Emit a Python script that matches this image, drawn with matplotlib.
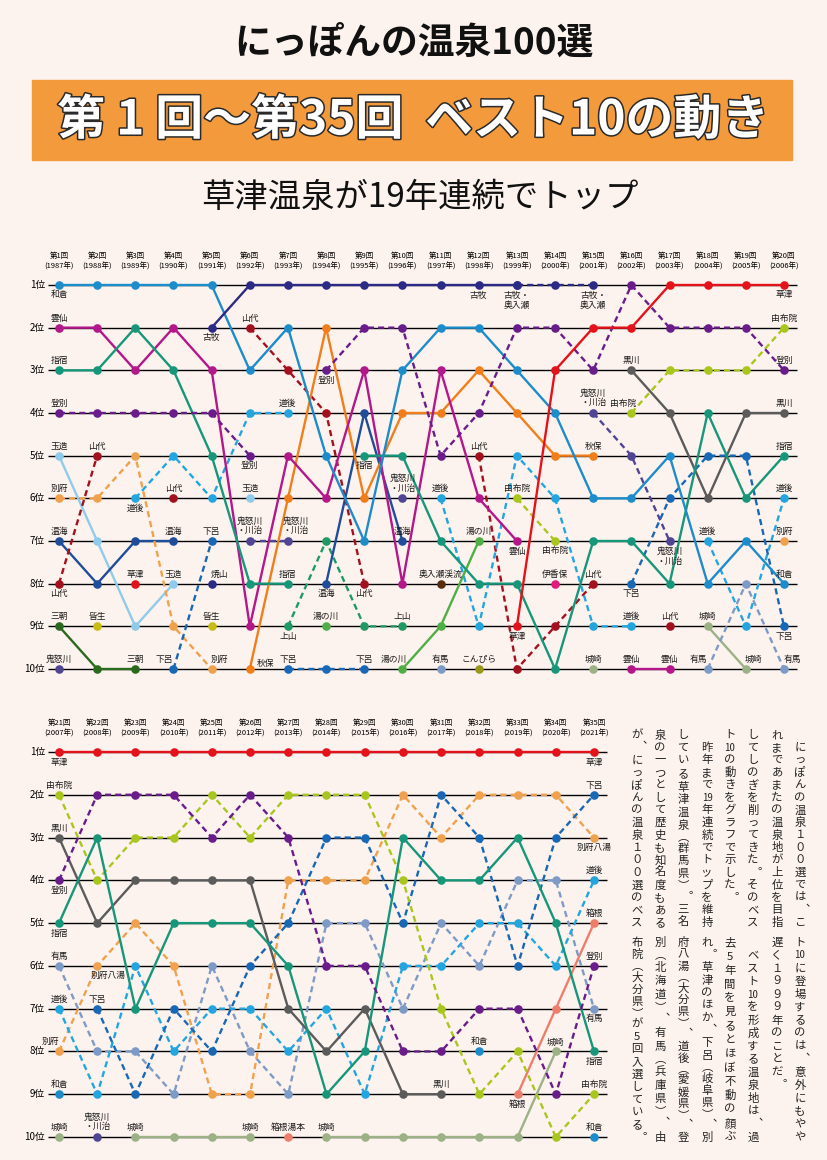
import numpy as np
import matplotlib.pyplot as plt
import matplotlib.patheffects as pe
from matplotlib.patches import Rectangle

plt.rcParams['font.family'] = ['Noto Sans CJK JP', 'DejaVu Sans']

N = None

events = [1, 2, 3, 4, 5, 6, 7, 8, 9, 10, 11, 12, 13, 14, 15, 16, 17, 18, 19, 20,
          21, 22, 23, 24, 25, 26, 27, 28, 29, 30, 31, 32, 33, 34, 35]
years = [1987, 1988, 1989, 1990, 1991, 1992, 1993, 1994, 1995, 1996, 1997, 1998,
         1999, 2000, 2001, 2002, 2003, 2004, 2005, 2006, 2007, 2008, 2009, 2010,
         2011, 2012, 2013, 2014, 2015, 2016, 2017, 2018, 2019, 2020, 2021]
rank_names = ['1位', '2位', '3位', '4位', '5位', '6位', '7位', '8位', '9位', '10位']

# rank per event (None = outside the top 10); events 1-20 then 21-35
wakura = [1, 1, 1, 1, 1, 3, 2, 5, 7, 3, 2, 2, 3, 4, 6, 6, 5, 8, 7, 8,
          9, N, N, N, N, N, N, N, N, N, N, 8, N, N, 10]
furumaki = [N, N, N, N, 2, 1, 1, 1, 1, 1, 1, 1, 1, N, N, N, N, N, N, N,
            N, N, N, N, N, N, N, N, N, N, N, N, N, N, N]
furumaki_oirase = [N, N, N, N, N, N, N, N, N, N, N, N, 1, 1, 1, N, N, N, N, N,
                   N, N, N, N, N, N, N, N, N, N, N, N, N, N, N]
unzen = [2, 2, 3, 2, 3, 9, 5, 6, 3, 8, 3, 6, 7, N, N, 10, 10, N, N, N,
         N, N, N, N, N, N, N, N, N, N, N, N, N, N, N]
ibusuki = [3, 3, 2, 3, 5, 8, 8, N, 5, 5, 7, 8, 8, 10, 7, 7, 8, 4, 6, 5,
           5, 3, 7, 5, 5, 5, 6, 9, 8, 3, 4, 4, 3, 5, 8]
noboribetsu = [4, 4, 4, 4, 4, 5, N, 3, 2, 2, 5, 4, 2, 2, 3, 1, 2, 2, 2, 3,
               4, 2, 2, 2, 3, 2, 3, 6, 6, 8, 8, 7, 7, 9, 6]
tamatsukuri = [5, 7, 9, 8, N, 6, N, N, N, N, N, N, N, N, N, N, N, N, N, N,
               N, N, N, N, N, N, N, N, N, N, N, N, N, N, N]
yamashiro = [8, 5, N, 6, N, 2, 3, 4, 8, N, N, 5, 10, 9, 8, N, 9, N, N, N,
             N, N, N, N, N, N, N, N, N, N, N, N, N, N, N]
beppu = [6, 6, 5, 9, 10, N, N, N, N, N, N, N, N, N, N, N, N, N, N, 7,
         8, 6, 5, 6, 9, 9, 4, 4, 4, 2, 3, 2, 2, 2, 3]
dogo = [N, N, 6, 5, 6, 4, 4, N, N, N, 6, 9, 5, 6, 9, 9, N, 7, 9, 6,
        7, 9, 6, 8, 7, 7, 8, 7, 9, 6, 6, 5, 5, 6, 4]
atsumi = [7, 8, 7, 7, N, N, N, 8, 4, 7, N, N, N, N, N, N, N, N, N, N,
          N, N, N, N, N, N, N, N, N, N, N, N, N, N, N]
misasa = [9, 10, 10, N, N, N, N, N, N, N, N, N, N, N, N, N, N, N, N, N,
          N, N, N, N, N, N, N, N, N, N, N, N, N, N, N]
kinugawa = [10, N, N, N, N, 7, 7, N, N, 6, N, N, N, N, 4, 5, 7, N, N, N,
            N, 10, N, N, N, N, N, N, N, N, N, N, N, N, N]
kaike = [N, 9, N, N, 9, N, N, N, N, N, N, N, N, N, N, N, N, N, N, N,
         N, N, N, N, N, N, N, N, N, N, N, N, N, N, N]
kusatsu = [N, N, 8, N, N, N, N, N, N, N, N, N, 9, 3, 2, 2, 1, 1, 1, 1,
           1, 1, 1, 1, 1, 1, 1, 1, 1, 1, 1, 1, 1, 1, 1]
gero = [N, N, N, 10, 7, N, 10, 10, 10, N, N, N, N, N, N, 8, 6, 5, 5, 9,
        N, 7, 9, 7, 8, 6, 5, 3, 3, 5, 2, 3, 6, 3, 2]
yakeyama = [N, N, N, N, 8, N, N, N, N, N, N, N, N, N, N, N, N, N, N, N,
            N, N, N, N, N, N, N, N, N, N, N, N, N, N, N]
akiu = [N, N, N, N, N, 10, 6, 2, 6, 4, 4, 3, 4, 5, 5, N, N, N, N, N,
        N, N, N, N, N, N, N, N, N, N, N, N, N, N, N]
kaminoyama = [N, N, N, N, N, N, 9, 7, 9, 9, N, N, N, N, N, N, N, N, N, N,
              N, N, N, N, N, N, N, N, N, N, N, N, N, N, N]
yunokawa = [N, N, N, N, N, N, N, 9, N, 10, 9, 7, N, N, N, N, N, N, N, N,
            N, N, N, N, N, N, N, N, N, N, N, N, N, N, N]
oirase = [N, N, N, N, N, N, N, N, N, N, 8, N, N, N, N, N, N, N, N, N,
          N, N, N, N, N, N, N, N, N, N, N, N, N, N, N]
arima = [N, N, N, N, N, N, N, N, N, N, 10, N, N, N, N, N, N, 10, 8, 10,
         6, 8, 8, 9, 6, 8, 9, 5, 5, 7, 5, 6, 4, 4, 7]
konpira = [N, N, N, N, N, N, N, N, N, N, N, 10, N, N, N, N, N, N, N, N,
           N, N, N, N, N, N, N, N, N, N, N, N, N, N, N]
yufuin = [N, N, N, N, N, N, N, N, N, N, N, N, 6, 7, N, 4, 3, 3, 3, 2,
          2, 4, 3, 3, 2, 3, 2, 2, 2, 4, 7, 9, 8, 10, 9]
ikaho = [N, N, N, N, N, N, N, N, N, N, N, N, N, 8, N, N, N, N, N, N,
         N, N, N, N, N, N, N, N, N, N, N, N, N, N, N]
kinosaki = [N, N, N, N, N, N, N, N, N, N, N, N, N, N, 10, N, N, 9, 10, N,
            10, N, 10, 10, 10, 10, N, 10, 10, 10, 10, 10, 10, 8, N]
kurokawa = [N, N, N, N, N, N, N, N, N, N, N, N, N, N, N, 3, 4, 6, 4, 4,
            3, 5, 4, 4, 4, 4, 7, 8, 7, 9, 9, N, N, N, N]
hakone = [N, N, N, N, N, N, N, N, N, N, N, N, N, N, N, N, N, N, N, N,
          N, N, N, N, N, N, 10, N, N, N, N, N, 9, 7, 5]

series = [
    ('奥入瀬渓流', oirase), ('こんぴら', konpira), ('伊香保', ikaho), ('焼山', yakeyama),
    ('皆生', kaike), ('三朝', misasa), ('玉造', tamatsukuri), ('湯の川', yunokawa),
    ('上山', kaminoyama), ('温海', atsumi), ('城崎', kinosaki), ('箱根', hakone),
    ('鬼怒川・川治', kinugawa), ('山代', yamashiro), ('有馬', arima), ('別府', beppu),
    ('道後', dogo), ('下呂', gero), ('秋保', akiu), ('黒川', kurokawa),
    ('由布院', yufuin), ('雲仙', unzen), ('指宿', ibusuki), ('和倉', wakura),
    ('登別', noboribetsu), ('古牧', furumaki), ('古牧・奥入瀬', furumaki_oirase),
    ('草津', kusatsu),
]

# (event, rank, text, placement)
labels = [
    (1, 1, '和倉', 'b'), (1, 2, '雲仙', 'a'), (1, 3, '指宿', 'a'), (1, 4, '登別', 'a'),
    (1, 5, '玉造', 'a'), (2, 5, '山代', 'a'), (5, 2, '古牧', 'b'), (6, 2, '山代', 'a'),
    (8, 3, '登別', 'b'), (7, 4, '道後', 'a'), (6, 5, '登別', 'b'), (9, 5, '指宿', 'b'),
    (1, 6, '別府', 'a'), (3, 6, '道後', 'b'), (4, 6, '山代', 'a'), (6, 6, '玉造', 'a'),
    (10, 6, '鬼怒川\n・川治', 'a'), (1, 7, '温海', 'a'), (4, 7, '温海', 'a'),
    (5, 7, '下呂', 'a'), (6, 7, '鬼怒川\n・川治', 'a'), (7, 7, '鬼怒川\n・川治', 'ar'),
    (10, 7, '温海', 'a'), (1, 8, '山代', 'b'), (3, 8, '草津', 'a'), (4, 8, '玉造', 'a'),
    (5, 8, '焼山', 'ar'), (7, 8, '指宿', 'a'), (8, 8, '温海', 'b'), (9, 8, '山代', 'b'),
    (11, 8, '奥入瀬渓流', 'a'), (1, 9, '三朝', 'a'), (2, 9, '皆生', 'a'), (5, 9, '皆生', 'a'),
    (7, 9, '上山', 'b'), (8, 9, '湯の川', 'a'), (10, 9, '上山', 'a'), (1, 10, '鬼怒川', 'a'),
    (3, 10, '三朝', 'a'), (4, 10, '下呂', 'al'), (5, 10, '別府', 'ar'), (6, 10, '秋保', 'r'),
    (7, 10, '下呂', 'a'), (9, 10, '下呂', 'a'), (10, 10, '湯の川', 'al'),
    (12, 1, '古牧', 'b'), (13, 1, '古牧・\n奥入瀬', 'b'), (15, 1, '古牧・\n奥入瀬', 'b'),
    (20, 1, '草津', 'b'), (20, 2, '由布院', 'a'), (16, 3, '黒川', 'a'), (20, 3, '登別', 'a'),
    (15, 4, '鬼怒川\n・川治', 'a'), (16, 4, '由布院', 'L'), (20, 4, '黒川', 'a'),
    (12, 5, '山代', 'a'), (15, 5, '秋保', 'a'), (20, 5, '指宿', 'a'), (11, 6, '道後', 'a'),
    (13, 6, '由布院', 'a'), (20, 6, '道後', 'a'), (12, 7, '湯の川', 'a'), (13, 7, '雲仙', 'b'),
    (14, 7, '由布院', 'b'), (17, 7, '鬼怒川\n・川治', 'b'), (18, 7, '道後', 'a'),
    (20, 7, '別府', 'a'), (14, 8, '伊香保', 'a'), (15, 8, '山代', 'a'), (16, 8, '下呂', 'b'),
    (20, 8, '和倉', 'a'), (13, 9, '草津', 'b'), (16, 9, '道後', 'a'), (17, 9, '山代', 'a'),
    (18, 9, '城崎', 'a'), (20, 9, '下呂', 'b'), (11, 10, '有馬', 'a'), (12, 10, 'こんぴら', 'a'),
    (15, 10, '城崎', 'a'), (16, 10, '雲仙', 'a'), (17, 10, '雲仙', 'a'), (18, 10, '有馬', 'al'),
    (19, 10, '城崎', 'ar'), (20, 10, '有馬', 'ar'),
    (21, 1, '草津', 'b'), (21, 2, '由布院', 'a'), (21, 3, '黒川', 'a'), (21, 4, '登別', 'b'),
    (21, 5, '指宿', 'b'), (21, 6, '有馬', 'a'), (22, 6, '別府八湯', 'br'), (21, 7, '道後', 'a'),
    (22, 7, '下呂', 'a'), (21, 8, '別府', 'al'), (21, 9, '和倉', 'a'), (21, 10, '城崎', 'a'),
    (22, 10, '鬼怒川\n・川治', 'a'), (23, 10, '城崎', 'a'), (26, 10, '城崎', 'a'),
    (27, 10, '箱根湯本', 'a'), (28, 10, '城崎', 'a'), (35, 1, '草津', 'b'), (35, 2, '下呂', 'a'),
    (35, 3, '別府八湯', 'b'), (35, 4, '道後', 'a'), (35, 5, '箱根', 'a'), (35, 6, '登別', 'a'),
    (35, 7, '有馬', 'b'), (32, 8, '和倉', 'a'), (34, 8, '城崎', 'a'), (35, 8, '指宿', 'b'),
    (31, 9, '黒川', 'a'), (33, 9, '箱根', 'b'), (35, 9, '由布院', 'a'), (35, 10, '和倉', 'a'),
]

text_upper = [
    '　にっぽんの温泉１００選では、こ',
    'れまであまたの温泉地が上位を目指',
    'してしのぎを削ってきた。そのベス',
    'ト10の動きをグラフで示した。',
    '　昨年まで19年連続でトップを維持',
    'している草津温泉（群馬県）。三名',
    '泉の一つとして歴史も知名度もある',
    'が、にっぽんの温泉１００選のベス',
]
text_lower = [
    'ト10に登場するのは、意外にもやや',
    '遅く１９９９年のことだ。',
    '　ベスト10を形成する温泉地は、過',
    '去5年間を見るとほぼ不動の顔ぶ',
    'れ。草津のほか、下呂（岐阜県）、別',
    '府八湯（大分県）、道後（愛媛県）、登',
    '別（北海道）、有馬（兵庫県）、由',
    '布院（大分県）が5回入選している。',
]

COLORS = {
    '和倉': '#1c8ccb', '古牧': '#2b2a85', '古牧・奥入瀬': '#2b2a85', '焼山': '#2b2a85',
    '雲仙': '#b3178a', '指宿': '#17977a', '登別': '#6a1d8a', '玉造': '#8fcbea',
    '山代': '#a3111f', '別府': '#f0a14e', '道後': '#23a6e0', '温海': '#1f4d9a',
    '三朝': '#2b6a1c', '鬼怒川・川治': '#504494', '皆生': '#c9bb10', '草津': '#e3121b',
    '下呂': '#1868b5', '秋保': '#f07e1b', '上山': '#1f9a64', '湯の川': '#4fae46',
    '奥入瀬渓流': '#5a2c0f', '有馬': '#7d9bc6', 'こんぴら': '#9a961c', '由布院': '#a9c61f',
    '伊香保': '#e11b7c', '城崎': '#9db187', '黒川': '#5b5b5b', '箱根': '#ee7e6c',
}
DASHED = {'古牧・奥入瀬', '登別', '山代', '別府', '道後', '鬼怒川・川治', '下呂',
          '上山', '有馬', '由布院'}
PLACE = {'a': (0, -9.5), 'b': (0, 10), 'al': (-9, -9.5), 'ar': (8, -9.5),
         'br': (11, 10), 'r': (16, -5), 'L': (-8, -9)}
# vertical-writing forms of punctuation
VFORM = {'、': '︑', '。': '︒', '（': '︵', '）': '︶'}

BG = '#fdf3ee'
W, H = 828, 1160

fig = plt.figure(figsize=(W / 100, H / 100), dpi=100)
fig.patch.set_facecolor(BG)


def ftext(x, y, s, **kw):
    return fig.text(x / W, 1 - y / H, s, **kw)


def panel(box, ev0, ev1, x0_ev, x1_ev, y_r1, y_r10):
    x0, y0, x1, y1 = box
    ax = fig.add_axes([x0 / W, 1 - y1 / H, (x1 - x0) / W, (y1 - y0) / H])
    sx = (x1_ev - x0_ev) / (ev1 - ev0)
    sy = (y_r10 - y_r1) / 9
    ax.set_xlim(ev0 + (x0 - x0_ev) / sx, ev0 + (x1 - x0_ev) / sx)
    ax.set_ylim(1 + (y1 - y_r1) / sy, 1 + (y0 - y_r1) / sy)
    ax.axis('off')
    return ax, sx


def draw_panel(ax, sx, lo, hi, x_line_end):
    ev_first = events[lo]
    ranks = np.arange(1, 11)
    ax.hlines(ranks, ev_first - 11 / sx, ev_first + (x_line_end - 59) / sx,
              color='black', lw=1.0, zorder=1)
    for r, name in zip(ranks, rank_names):
        ax.text(ev_first - 14 / sx, r, name, ha='right', va='center', fontsize=7)
    for ev, yr in zip(events[lo:hi], years[lo:hi]):
        ax.annotate(f'第{ev}回', (ev, 1), xytext=(0, 29 * 0.72), textcoords='offset points',
                    ha='center', va='center', fontsize=5.4)
        ax.annotate(f'({yr}年)', (ev, 1), xytext=(0, 18.5 * 0.72), textcoords='offset points',
                    ha='center', va='center', fontsize=5.4)
    x = np.array(events[lo:hi])
    for name, vals in series:
        y = np.array([np.nan if v is None else v for v in vals[lo:hi]], float)
        if np.all(np.isnan(y)):
            continue
        ls = (0, (2.6, 1.7)) if name in DASHED else '-'
        ax.plot(x, y, color=COLORS[name], lw=1.7, ls=ls, marker='o', ms=6.2,
                mec='none', zorder=3)
    for ev, r, s, where in labels:
        if not events[lo] <= ev <= events[hi - 1]:
            continue
        dx, dy = PLACE[where]
        extra = s.count('\n') * 5.5
        dy = dy - extra if dy < 0 else dy + extra
        ax.annotate(s, (ev, r), xytext=(dx * 0.72, -dy * 0.72), textcoords='offset points',
                    ha='center', va='center', fontsize=6.3, linespacing=1.05,
                    color='#1a1a1a', zorder=5)


# headings
ftext(414, 43, 'にっぽんの温泉100選', ha='center', va='center', fontsize=26.5,
      fontweight='bold', color='#111')
fig.patches.append(Rectangle((32 / W, 1 - 160 / H), (792 - 32) / W, 80 / H,
                             transform=fig.transFigure, color='#f29a3c', zorder=0))
ftext(413, 120, '第 1 回～第35回  ベスト10の動き', ha='center', va='center',
      fontsize=34.5, fontweight='bold', color='white',
      path_effects=[pe.withStroke(linewidth=2.2, foreground='#2a2a2a')])
ftext(420, 198, '草津温泉が19年連続でトップ', ha='center', va='center', fontsize=24,
      color='#111')

top, sx_top = panel((0, 240, 828, 690), 1, 20, 59, 784, 285, 669)
draw_panel(top, sx_top, 0, 20, 797)
bot, sx_bot = panel((0, 705, 828, 1155), 21, 35, 59, 594, 752, 1137)
draw_panel(bot, sx_bot, 20, 35, 607)


def vcolumn(x, y0, s, height, justify, size=8.2):
    toks = []
    i = 0
    while i < len(s):
        if (s[i].isascii() and s[i].isdigit() and i + 1 < len(s)
                and s[i + 1].isascii() and s[i + 1].isdigit()):
            toks.append(s[i:i + 2])
            i += 2
        else:
            toks.append(s[i])
            i += 1
    w = [0.75 if t in '（）' else 1.0 for t in toks]
    pitch = height / sum(w) if justify else height / 16
    pitch = min(pitch, height / 15)
    y = y0
    for t, wi in zip(toks, w):
        cy = y + wi * pitch / 2
        dx = 0
        fs = size
        if t in '、。':
            dx = 0.3 * pitch
        elif len(t) == 2:
            fs = size * 0.85
        ftext(x + dx, cy, VFORM.get(t, t), ha='center', va='center', fontsize=fs,
              color='#222')
        y += wi * pitch


col_x = [800, 777, 753, 730, 707, 683, 660, 637]
short_cols = {'ト10の動きをグラフで示した。', '遅く１９９９年のことだ。'}
for cx, s in zip(col_x, text_upper):
    vcolumn(cx, 729, s, 200, s not in short_cols)
for cx, s in zip(col_x, text_lower):
    vcolumn(cx, 936, s, 208, s not in short_cols)

fig.savefig('out.png', dpi=100, facecolor=BG)
